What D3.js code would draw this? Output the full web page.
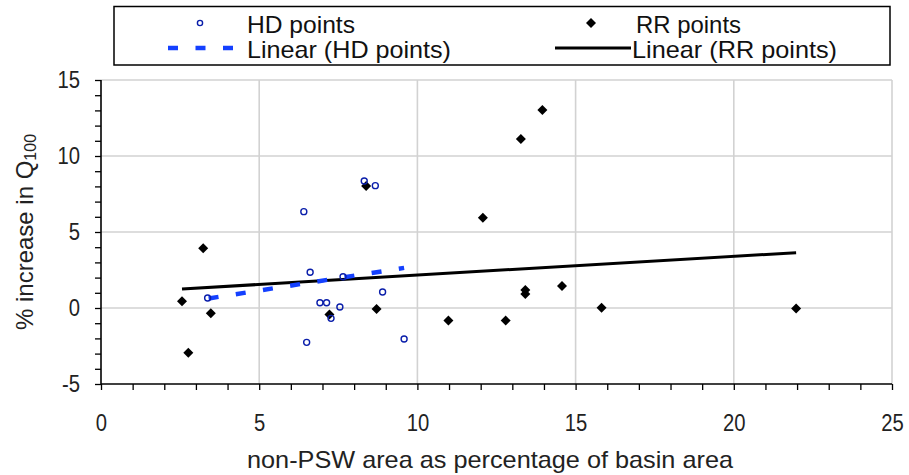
<!DOCTYPE html>
<html><head><meta charset="utf-8">
<script src="https://cdn.jsdelivr.net/npm/d3@7"></script>
<style>
html,body{margin:0;padding:0;background:#fff;}
svg{display:block;font-family:"Liberation Sans",Arial,sans-serif;}
</style></head>
<body>
<svg id="chart" width="909" height="475"></svg>
<script>
// ---- data ----
const hdX = [8.32, 8.67, 6.41, 6.61, 7.65, 3.37, 6.92, 7.13, 7.55, 7.27, 8.90, 6.50, 9.58];
const hdY = [8.36, 8.05, 6.34, 2.35, 2.06, 0.66, 0.35, 0.35, 0.07, -0.68, 1.05, -2.26, -2.04];
const rrX = [3.23, 2.56, 3.47, 2.76, 8.38, 7.22, 8.71, 13.95, 13.27, 12.07, 13.41, 13.41, 14.57, 15.82, 21.97, 10.98, 12.79];
const rrY = [3.93, 0.44, -0.35, -2.94, 8.03, -0.42, -0.07, 13.03, 11.12, 5.94, 1.18, 0.92, 1.45, 0.02, -0.04, -0.83, -0.83];
const hdTrendX = [3.37, 9.58];
const hdTrendY = [0.62, 2.64];
const rrTrendX = [2.56, 21.97];
const rrTrendY = [1.25, 3.64];
const xTicks = [0, 5, 10, 15, 20, 25];
const yTicks = [-5, 0, 5, 10, 15];
const legendLabels = ["HD points", "Linear (HD points)", "RR points", "Linear (RR points)"];
const xTitle = "non-PSW area as percentage of basin area";

const svg = d3.select("#chart");
const L = 101, R = 892, T = 80, B = 384;
const x = d3.scaleLinear().domain([0, 25]).range([L, R]);
const y = d3.scaleLinear().domain([-5, 15]).range([B, T]);
const gridCol = "#d2d2d2";
const fmt = d => String(d); // plain hyphen-minus, as in the reference

// grid
const g = svg.append("g");
g.selectAll("line.vg").data(xTicks.slice(1)).enter().append("line")
  .attr("x1", d => x(d)).attr("x2", d => x(d)).attr("y1", T).attr("y2", B)
  .attr("stroke", gridCol).attr("stroke-width", 1.6);
g.selectAll("line.hg").data(yTicks.slice(1)).enter().append("line")
  .attr("x1", L).attr("x2", R).attr("y1", d => y(d)).attr("y2", d => y(d))
  .attr("stroke", gridCol).attr("stroke-width", 1.6);

// axes
const xMinor = d3.range(0, 26, 1);
const yMinor = d3.range(-5, 16, 1);
const xAxis = svg.append("g").attr("transform", `translate(0,${B})`)
  .call(d3.axisBottom(x).tickValues(xMinor).tickSize(6).tickFormat(""));
const yAxis = svg.append("g").attr("transform", `translate(${L},0)`)
  .call(d3.axisLeft(y).tickValues(yMinor).tickSize(6).tickFormat(""));
[xAxis, yAxis].forEach(a => {
  a.select(".domain").attr("stroke", "#000").attr("stroke-width", 1.6);
  a.selectAll(".tick line").attr("stroke", "#000").attr("stroke-width", 1.3);
});
xAxis.select(".domain").attr("d", `M${L},0H${R}`);
yAxis.select(".domain").attr("d", `M0,${T}V${B}`);

const xLab = svg.append("g").attr("transform", `translate(0,${B})`)
  .call(d3.axisBottom(x).tickValues(xTicks).tickSize(0).tickPadding(31).tickFormat(fmt));
xLab.select(".domain").remove();
xLab.selectAll("text").attr("font-size", 23).attr("fill", "#222").attr("font-family", "Liberation Sans, Arial, sans-serif");
const yLab = svg.append("g").attr("transform", `translate(${L},0)`)
  .call(d3.axisLeft(y).tickValues(yTicks).tickSize(0).tickPadding(21).tickFormat(fmt));
yLab.select(".domain").remove();
yLab.selectAll("text").attr("font-size", 23).attr("fill", "#222").attr("font-family", "Liberation Sans, Arial, sans-serif");

// trend lines
svg.append("line")
  .attr("x1", x(rrTrendX[0])).attr("y1", y(rrTrendY[0]))
  .attr("x2", x(rrTrendX[1])).attr("y2", y(rrTrendY[1]))
  .attr("stroke", "#000").attr("stroke-width", 3);
svg.append("line")
  .attr("x1", x(hdTrendX[0])).attr("y1", y(hdTrendY[0]))
  .attr("x2", x(hdTrendX[1])).attr("y2", y(hdTrendY[1]))
  .attr("stroke", "#1440ff").attr("stroke-width", 4.5)
  .attr("stroke-dasharray", "10,17.5").attr("stroke-dashoffset", -1);

// points
const diamond = s => `M0,${-s}L${s},0L0,${s}L${-s},0Z`;
svg.append("g").selectAll("path").data(rrX.map((v, i) => [v, rrY[i]])).enter().append("path")
  .attr("d", diamond(5)).attr("transform", d => `translate(${x(d[0])},${y(d[1])})`)
  .attr("fill", "#000");
svg.append("g").selectAll("circle").data(hdX.map((v, i) => [v, hdY[i]])).enter().append("circle")
  .attr("cx", d => x(d[0])).attr("cy", d => y(d[1])).attr("r", 3)
  .attr("fill", "none").attr("stroke", "#0a1eaa").attr("stroke-width", 1.4);

// legend
const lg = svg.append("g");
lg.append("rect").attr("x", 114).attr("y", 6.5).attr("width", 776).attr("height", 58.5)
  .attr("fill", "#fff").attr("stroke", "#000").attr("stroke-width", 1.5);
lg.append("circle").attr("cx", 200).attr("cy", 23).attr("r", 2.6)
  .attr("fill", "none").attr("stroke", "#0a1eaa").attr("stroke-width", 1.4);
lg.append("line").attr("x1", 168).attr("x2", 234).attr("y1", 48).attr("y2", 48)
  .attr("stroke", "#1440ff").attr("stroke-width", 4.5).attr("stroke-dasharray", "10,17.5");
lg.append("path").attr("d", diamond(5)).attr("transform", "translate(591,23)").attr("fill", "#000");
lg.append("line").attr("x1", 555).attr("x2", 631).attr("y1", 48).attr("y2", 48)
  .attr("stroke", "#000").attr("stroke-width", 3);
const legPos = [[247, 33, 108], [247, 58, 204], [636, 33, 105], [632, 58, 205]];
legendLabels.forEach((t, i) => {
  lg.append("text").attr("x", legPos[i][0]).attr("y", legPos[i][1])
    .attr("font-size", 24).attr("fill", "#111").text(t)
    .attr("textLength", legPos[i][2]).attr("lengthAdjust", "spacingAndGlyphs");
});

// axis titles
svg.append("text").attr("x", 490).attr("y", 468).attr("text-anchor", "middle")
  .attr("font-size", 24).attr("fill", "#222").text(xTitle)
  .attr("textLength", 486).attr("lengthAdjust", "spacingAndGlyphs");
const yt = svg.append("text").attr("transform", "translate(33,232) rotate(-90)")
  .attr("text-anchor", "middle").attr("font-size", 24).attr("fill", "#222");
yt.append("tspan").text("% increase in Q");
yt.append("tspan").attr("font-size", 16).attr("dy", 3).text("100");

// slight horizontal condensing of tick labels
svg.selectAll(".tick text").each(function () {
  const w = this.getComputedTextLength();
  d3.select(this).attr("textLength", w * 0.88).attr("lengthAdjust", "spacingAndGlyphs");
});
</script>
</body></html>
